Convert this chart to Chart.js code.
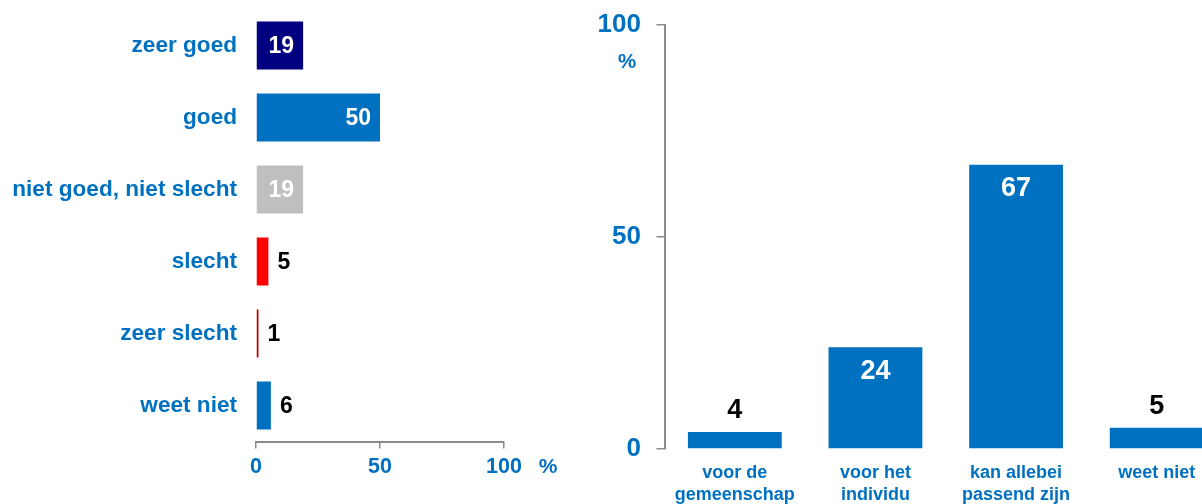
<!DOCTYPE html>
<html lang="nl">
<head>
<meta charset="utf-8">
<title>Beoordeling en keuze</title>
<script src="https://cdn.jsdelivr.net/npm/chart.js@4.4.0/dist/chart.umd.min.js"></script>
<style>
  html, body { margin: 0; padding: 0; background: #fff; overflow: hidden; }
  body { width: 1202px; height: 504px; position: relative; }
  .panel { position: absolute; top: 0; }
  #ratingPanel { left: 0; }
  #choicePanel { left: 590px; }
</style>
</head>
<body>
<div class="panel" id="ratingPanel"><canvas id="ratingChart" width="590" height="504"></canvas></div>
<div class="panel" id="choicePanel"><canvas id="choiceChart" width="650" height="504"></canvas></div>

<script>
// Left panel: rating distribution
const ratingLabels = ['zeer goed', 'goed', 'niet goed, niet slecht', 'slecht', 'zeer slecht', 'weet niet'];
const ratingValues = [19, 50, 19, 5, 1, 6];
const ratingTicks = [0, 50, 100];

// Right panel: for whom it is suitable
const choiceLabels = [['voor de', 'gemeenschap'], ['voor het', 'individu'], ['kan allebei', 'passend zijn'], 'weet niet'];
const choiceValues = [4, 24, 67, 5];
const choiceTicks = [0, 50, 100];

const unitLabel = '%';

const BLUE = '#0070C0';
const AXIS_GREY = '#8a8a8a';
const FONT = '"Liberation Sans", Arial, Helvetica, sans-serif';
const ratingColors = ['#000080', BLUE, '#BFBFBF', '#FF0000', '#C00000', BLUE];

Chart.defaults.font.family = FONT;
Chart.defaults.font.weight = 'bold';
Chart.defaults.color = BLUE;

// fixed axis size, and no extra room reserved for the edge labels
function fixSize(prop, px) {
    return scale => {
        scale[prop] = px;
        scale.paddingTop = 0;
        scale.paddingBottom = 0;
        scale.paddingLeft = 0;
        scale.paddingRight = 0;
    };
}

// value labels on the bars: white inside big bars, black next to small ones
const barLabels = {
    id: 'barLabels',
    afterDatasetsDraw(chart, args, opts) {
        const ctx = chart.ctx;
        const values = chart.data.datasets[0].data;
        const horizontal = chart.options.indexAxis === 'y';
        ctx.save();
        ctx.font = `bold ${opts.size}px ${FONT}`;
        ctx.textBaseline = 'middle';
        chart.getDatasetMeta(0).data.forEach((bar, i) => {
            const v = values[i];
            const inside = v >= opts.insideFrom;
            ctx.fillStyle = inside ? '#fff' : '#000';
            if (horizontal) {
                ctx.textAlign = inside ? 'right' : 'left';
                ctx.fillText(String(v), inside ? bar.x - 9 : bar.x + 9, bar.y + 1);
            } else {
                ctx.textAlign = 'center';
                ctx.fillText(String(v), bar.x, inside ? bar.y + 24 : bar.y - 21);
            }
        });
        ctx.restore();
    }
};

// the "%" unit next to the value axis
const unitText = {
    id: 'unitText',
    afterDraw(chart, args, opts) {
        const ctx = chart.ctx;
        const area = chart.chartArea;
        ctx.save();
        ctx.font = `bold ${opts.size}px ${FONT}`;
        ctx.fillStyle = BLUE;
        ctx.textAlign = 'center';
        ctx.textBaseline = 'middle';
        if (chart.options.indexAxis === 'y') {
            const x = chart.scales.x.getPixelForValue(ratingTicks[ratingTicks.length - 1]) + 44;
            ctx.fillText(unitLabel, x, area.bottom + 25.5);
        } else {
            ctx.fillText(unitLabel, area.left - 37.5, area.top + 38);
        }
        ctx.restore();
    }
};

new Chart(document.getElementById('ratingChart'), {
    type: 'bar',
    data: {
        labels: ratingLabels,
        datasets: [{
            data: ratingValues,
            backgroundColor: ratingColors,
            borderWidth: 0,
            barPercentage: 1,
            categoryPercentage: 0.667
        }]
    },
    options: {
        indexAxis: 'y',
        responsive: false,
        animation: false,
        layout: { padding: { top: 9.5, right: 86, bottom: 0, left: 0 } },
        plugins: {
            legend: { display: false },
            tooltip: { enabled: false },
            barLabels: { size: 23, insideFrom: 10 },
            unitText: { size: 21 }
        },
        scales: {
            x: {
                min: ratingTicks[0],
                max: ratingTicks[ratingTicks.length - 1],
                afterBuildTicks: scale => { scale.ticks = ratingTicks.map(v => ({ value: v })); },
                grid: { drawOnChartArea: false, drawTicks: true, tickLength: 7, color: AXIS_GREY, lineWidth: 1.5 },
                border: { display: true, color: AXIS_GREY, width: 2 },
                ticks: { padding: 6, maxRotation: 0, color: BLUE, font: { size: 21.5, weight: 'bold' } },
                afterFit: fixSize('height', 62.5)
            },
            y: {
                grid: { display: false, drawTicks: false },
                border: { display: false },
                ticks: { padding: 19, color: BLUE, font: { size: 22.6, weight: 'bold' } },
                afterFit: fixSize('width', 256)
            }
        }
    },
    plugins: [barLabels, unitText]
});

new Chart(document.getElementById('choiceChart'), {
    type: 'bar',
    data: {
        labels: choiceLabels,
        datasets: [{
            data: choiceValues,
            backgroundColor: BLUE,
            borderWidth: 0,
            barPercentage: 1,
            categoryPercentage: 0.667
        }]
    },
    options: {
        responsive: false,
        animation: false,
        layout: { padding: { top: 24.7, right: 13, bottom: 0, left: 0 } },
        plugins: {
            legend: { display: false },
            tooltip: { enabled: false },
            barLabels: { size: 27, insideFrom: 10 },
            unitText: { size: 20.5 }
        },
        scales: {
            x: {
                grid: { display: false, drawTicks: false },
                border: { display: false },
                ticks: { padding: 13, maxRotation: 0, autoSkip: false, color: BLUE, font: { size: 18, weight: 'bold', lineHeight: 1.22 } },
                afterFit: fixSize('height', 55)
            },
            y: {
                min: choiceTicks[0],
                max: choiceTicks[choiceTicks.length - 1],
                afterBuildTicks: scale => { scale.ticks = choiceTicks.map(v => ({ value: v })); },
                grid: { drawOnChartArea: false, drawTicks: true, tickLength: 8, color: AXIS_GREY, lineWidth: 1.5 },
                border: { display: true, color: AXIS_GREY, width: 2 },
                ticks: { padding: 15.5, color: BLUE, font: { size: 26, weight: 'bold' } },
                afterFit: fixSize('width', 74.5)
            }
        }
    },
    plugins: [barLabels, unitText]
});
</script>
</body>
</html>
